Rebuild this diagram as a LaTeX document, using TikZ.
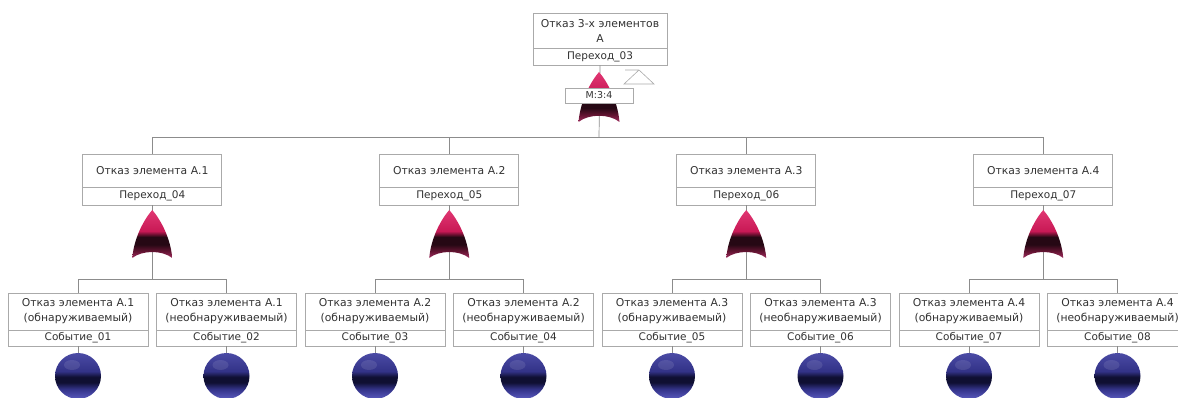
\documentclass[tikz,border=0pt]{standalone}
\usepackage{fontspec}
\setmainfont{DejaVu Sans}
\usetikzlibrary{calc}
\definecolor{boxline}{RGB}{170,170,170}
\definecolor{conn}{RGB}{140,140,140}
\definecolor{txt}{RGB}{50,50,50}
\definecolor{gpink}{RGB}{225,55,115}
\definecolor{gpinkb}{RGB}{200,25,85}
\definecolor{gdark}{RGB}{38,8,20}
\definecolor{gmar}{RGB}{100,20,50}
\definecolor{gbot}{RGB}{160,45,95}
\definecolor{btop}{RGB}{75,75,165}
\definecolor{bmid}{RGB}{50,50,135}
\definecolor{bdark}{RGB}{15,15,50}
\definecolor{blow}{RGB}{90,90,190}
\pgfdeclareverticalshading{gateshade}{100bp}{color(0bp)=(gbot); color(25bp)=(gbot); color(32bp)=(gmar); color(39bp)=(gdark); color(47bp)=(gdark); color(53bp)=(gpinkb); color(75bp)=(gpink); color(100bp)=(gpink)}
\pgfdeclareverticalshading{sphshade}{100bp}{color(0bp)=(blow); color(25bp)=(blow); color(36bp)=(bmid); color(43bp)=(bdark); color(49bp)=(bdark); color(55bp)=(bmid); color(75bp)=(btop); color(100bp)=(btop)}
\newcommand\gateshape{\shade[shading=gateshade] (0,-24) .. controls (7,-16) and (18,2) .. (20,24) .. controls (10,16) and (-10,16) .. (-20,24) .. controls (-18,2) and (-7,-16) .. (0,-24) -- cycle;}
\newcommand\sphereshape{\shade[shading=sphshade] (0,0) circle (23);
  \fill[white,opacity=0.10] (-6,-11) ellipse (8 and 5);}
\tikzset{
  ttl/.style={draw=boxline, fill=white, line width=0.6pt, inner sep=1pt, align=center, text=txt,
    font=\fontsize{10.8}{15}\selectfont},
  lbl/.style={draw=boxline, fill=white, line width=0.6pt, inner sep=1pt, align=center, text=txt,
    font=\fontsize{10.5}{12}\selectfont},
  gatebox/.style={minimum width=40pt, minimum height=48pt, inner sep=0pt},
  sph/.style={circle, minimum size=46pt, inner sep=0pt},
  conn/.style={draw=conn, line width=0.7pt},
}
\begin{document}
\begin{tikzpicture}[x=1pt,y=-1pt]
\useasboundingbox (0,0) rectangle (1178,398);
% top event
\node[ttl, minimum width=134pt, minimum height=35pt] (top) at (600,30.5) {Отказ 3-х элементов\\А};
\node[lbl, minimum width=134pt, minimum height=17pt] (topl) at (600,56.5) {Переход\_03};
\node[gatebox, minimum width=41pt, minimum height=50pt] (gt) at (599,97) {};
\coordinate (bus0) at (599,137);
% level 1
\foreach \i in {1,...,4}{
  \pgfmathsetmacro\cx{152.25+297*(\i-1)}
  \pgfmathtruncatemacro\tr{3+\i}
  \node[ttl, minimum width=139pt, minimum height=33pt] (t\i) at (\cx,170.5) {Отказ элемента А.\i};
  \node[lbl, minimum width=139pt, minimum height=18pt] (l\i) at (\cx,196) {Переход\_0\tr};
  \node[gatebox] (g\i) at (\cx,234) {};
  \coordinate (bus\i) at (\cx,279);
}
% level 2
\foreach \i in {1,...,4}{
  \pgfmathtruncatemacro\ka{2*\i-1}
  \pgfmathtruncatemacro\kb{2*\i}
  \pgfmathsetmacro\xa{78+148.5*(\ka-1)}
  \pgfmathsetmacro\xb{78+148.5*(\kb-1)}
  \node[ttl, minimum width=140pt, minimum height=37pt] (b\ka) at (\xa,311.5) {Отказ элемента А.\i\\(обнаруживаемый)};
  \node[lbl, minimum width=140pt, minimum height=16pt] (bl\ka) at (\xa,338) {Событие\_0\ka};
  \node[sph] (c\ka) at (\xa,376) {};
  \node[ttl, minimum width=140pt, minimum height=37pt] (b\kb) at (\xb,311.5) {Отказ элемента А.\i\\(необнаруживаемый)};
  \node[lbl, minimum width=140pt, minimum height=16pt] (bl\kb) at (\xb,338) {Событие\_0\kb};
  \node[sph] (c\kb) at (\xb,376) {};
}
% connectors
\draw[conn] (topl.south) -- (bus0);
\foreach \i in {1,...,4}{
  \draw[conn] (bus0) -| (t\i.north);
  \draw[conn] (l\i.south) -- (bus\i);
}
\foreach \i/\a/\b in {1/1/2,2/3/4,3/5/6,4/7/8}{
  \draw[conn] (bus\i) -| (b\a.north);
  \draw[conn] (bus\i) -| (b\b.north);
  \draw[conn] (bl\a.south) -- (c\a.north);
  \draw[conn] (bl\b.south) -- (c\b.north);
}
% gates
\begin{scope}[shift={(gt.center)}, yscale=50/48, xscale=41/40] \gateshape \end{scope}
\foreach \i in {1,...,4}{
  \begin{scope}[shift={(g\i.center)}] \gateshape \end{scope}
}
\foreach \k in {1,...,8}{
  \begin{scope}[shift={(c\k.center)}] \sphereshape \end{scope}
}
% voting label and transfer triangle
\node[lbl, minimum width=68pt, minimum height=15pt, font=\fontsize{9.5}{11}\selectfont] (m) at (599,95.5) {M:3:4};
\draw[boxline, line width=0.6pt] (625,70) -- (639,70) -- (654,84) -- (624,84) -- (639,70);
\end{tikzpicture}
\end{document}
